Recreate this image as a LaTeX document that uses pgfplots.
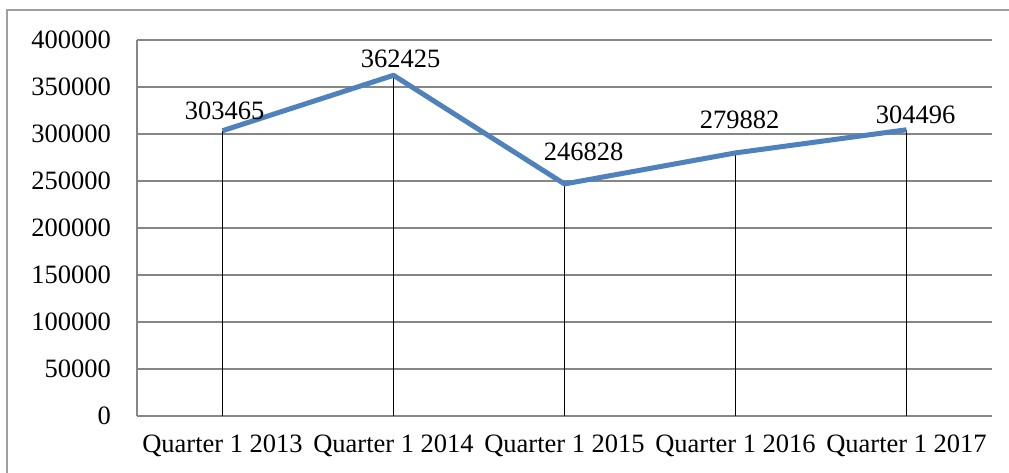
\documentclass[border=0pt]{standalone}
\usepackage{fontspec}
\setmainfont{Liberation Serif}
\usepackage{pgfplots}
\pgfplotsset{compat=1.18}
\usepackage{pgfplotstable}
\definecolor{lineblue}{RGB}{79,129,189}
\definecolor{gridgray}{RGB}{134,134,134}
\definecolor{framegray}{RGB}{160,160,160}
\pgfplotstableread{
x y dx dy lab
0 303465 2 20 303465
1 362425 7 16 362425
2 246828 19 32 246828
3 279882 4 33 279882
4 304496 9 15 304496
}\datatable
\begin{document}
\fontsize{26.5bp}{30bp}\selectfont
\begin{tikzpicture}[x=1bp,y=1bp]
\useasboundingbox (0,0) rectangle (1009,473);
\draw[framegray, line width=1.5bp] (7,-5) -- (7,463) -- (1015,463);
\begin{axis}[
  at={(137bp,57bp)}, anchor=south west,
  scale only axis, width=855bp, height=376bp,
  xmin=-0.5, xmax=4.5, ymin=0, ymax=400000,
  xtick={0,1,2,3,4},
  xticklabels={Quarter 1 2013, Quarter 1 2014, Quarter 1 2015, Quarter 1 2016, Quarter 1 2017},
  ytick={0,50000,100000,150000,200000,250000,300000,350000,400000},
  yticklabels={0,50000,100000,150000,200000,250000,300000,350000,400000},
  scaled y ticks=false,
  axis x line*=bottom, axis y line*=left,
  axis line style={gridgray, line width=1.2bp, -},
  ymajorgrids, major grid style={gridgray, line width=1.2bp},
  major tick length=0pt,
  tick label style={font=\fontsize{26.5bp}{30bp}\selectfont, text=black},
  yticklabel style={anchor=east, inner sep=0pt, xshift=-26bp},
  xticklabel style={anchor=north, inner sep=0pt, yshift=-19bp},
  clip=false,
]
\addplot[ycomb, black, line width=1.8bp, mark=none] table[x=x,y=y]{\datatable};
\addplot[lineblue, line width=5bp, line join=round, mark=none,
  point meta=explicit symbolic,
  nodes near coords,
  visualization depends on={\thisrow{dx} \as \dxv},
  visualization depends on={\thisrow{dy} \as \dyv},
  every node near coord/.append style={anchor=center, text=black, inner sep=0pt,
    font=\fontsize{26.5bp}{30bp}\selectfont, xshift=\dxv bp, yshift=\dyv bp},
] table[x=x,y=y,meta=lab]{\datatable};
\end{axis}
\end{tikzpicture}
\end{document}
